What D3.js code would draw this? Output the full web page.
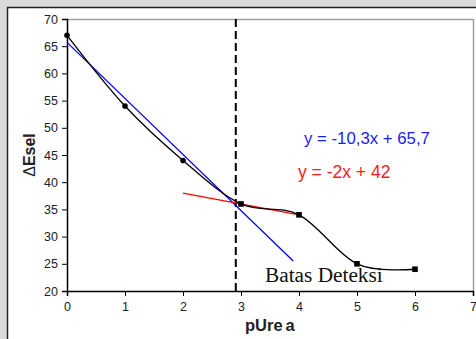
<!DOCTYPE html>
<html><head><meta charset="utf-8">
<script src="https://cdn.jsdelivr.net/npm/d3@7"></script>
<style>body{margin:0;background:#dadada;}svg{display:block;}</style>
</head><body><svg id="c" width="476" height="339"></svg>
<script>
const xVals = [0, 1, 2, 3, 4, 5, 6];
const yVals = [67, 54, 44, 36, 34, 25, 24];
const markerShapes = ["circle", "circle", "circle", "square", "square", "square", "square"];
const xTicks = [0, 1, 2, 3, 4, 5, 6, 7];
const yTicks = [20, 25, 30, 35, 40, 45, 50, 55, 60, 65, 70];
const fit1 = {slope: -10.3, intercept: 65.7, x0: 0, x1: 3.9, label: "y = -10,3x + 65,7"};
const fit2 = {slope: -2, intercept: 42, x0: 2, x1: 4, label: "y = -2x + 42"};
const detectionX = 2.91;
const detectionLabel = "Batas Deteksi";

const svg = d3.select("#c");
svg.append("rect").attr("x",7).attr("y",7).attr("width",469).attr("height",332).attr("fill","#fff");
svg.append("line").attr("x1",7.5).attr("y1",7).attr("x2",7.5).attr("y2",339).attr("stroke","#222").attr("stroke-width",1.5);
svg.append("line").attr("x1",7).attr("y1",7.5).attr("x2",476).attr("y2",7.5).attr("stroke","#222").attr("stroke-width",1.5);

const x = d3.scaleLinear().domain([0,7]).range([67,473]);
const y = d3.scaleLinear().domain([20,70]).range([291,19]);

svg.append("line").attr("x1",67).attr("x2",473).attr("y1",19.5).attr("y2",19.5).attr("stroke","#a0a0a0").attr("stroke-width",1.5);
svg.append("line").attr("x1",473.5).attr("x2",473.5).attr("y1",19).attr("y2",291).attr("stroke","#a0a0a0").attr("stroke-width",1.5);

const gx = svg.append("g").attr("transform","translate(0,291)")
  .call(d3.axisBottom(x).tickValues(xTicks).tickSize(5).tickPadding(6).tickFormat(d3.format("d")));
const gy = svg.append("g").attr("transform","translate(67,0)")
  .call(d3.axisLeft(y).tickValues(yTicks).tickSize(5).tickPadding(4).tickFormat(d3.format("d")));
[gx,gy].forEach(g=>{
  g.select(".domain").attr("stroke","#000").attr("stroke-width",1.5);
  g.selectAll(".tick line").attr("stroke","#000");
  g.selectAll("text").attr("font-family","Liberation Sans, Arial, sans-serif").attr("font-size",12.5).attr("fill","#222");
});

svg.append("line").attr("x1",x(detectionX)).attr("x2",x(detectionX)).attr("y1",y(70)).attr("y2",y(20))
  .attr("stroke","#000").attr("stroke-width",2).attr("stroke-dasharray","8,4");

[[fit1,"#0000ff"],[fit2,"#ff0000"]].forEach(([f,c])=>{
  svg.append("line").attr("x1",x(f.x0)).attr("y1",y(f.slope*f.x0+f.intercept))
    .attr("x2",x(f.x1)).attr("y2",y(f.slope*f.x1+f.intercept)).attr("stroke",c).attr("stroke-width",1.3);
});

const pts = xVals.map((v,i)=>[v,yVals[i]]);
svg.append("path").datum(pts).attr("fill","none").attr("stroke","#000").attr("stroke-width",1.3)
  .attr("d", d3.line().x(d=>x(d[0])).y(d=>y(d[1])).curve(d3.curveCardinal.tension(0)));

pts.forEach((d,i)=>{
  if (markerShapes[i]==="circle") svg.append("circle").attr("cx",x(d[0])).attr("cy",y(d[1])).attr("r",2.8).attr("fill","#000");
  else svg.append("rect").attr("x",x(d[0])-2.8).attr("y",y(d[1])-2.8).attr("width",5.6).attr("height",5.6).attr("fill","#000");
});

svg.append("text").attr("x",304).attr("y",143.5).attr("fill","#1a1aff").attr("font-family","Liberation Sans, Arial, sans-serif").attr("font-size",16.8).text(fit1.label);
svg.append("text").attr("x",298).attr("y",177.5).attr("fill","#ff1a1a").attr("font-family","Liberation Sans, Arial, sans-serif").attr("font-size",17.5).text(fit2.label);
svg.append("text").attr("x",265).attr("y",282).attr("fill","#111").attr("font-family","Liberation Serif, Times New Roman, serif").attr("font-size",21.3).text(detectionLabel);

svg.append("text").attr("transform","translate(35,155) rotate(-90)").attr("text-anchor","middle")
  .attr("font-family","Liberation Sans, Arial, sans-serif").attr("font-size",16).attr("fill","#222")
  .html('<tspan font-weight="normal">\u0394</tspan><tspan font-weight="bold">Esel</tspan>');
svg.append("text").attr("x",245).attr("y",331)
  .attr("font-family","Liberation Sans, Arial, sans-serif").attr("font-size",16.5).attr("font-weight","bold").attr("fill","#222")
  .html('<tspan>pUre</tspan><tspan dx="3">a</tspan>');
</script></body></html>
